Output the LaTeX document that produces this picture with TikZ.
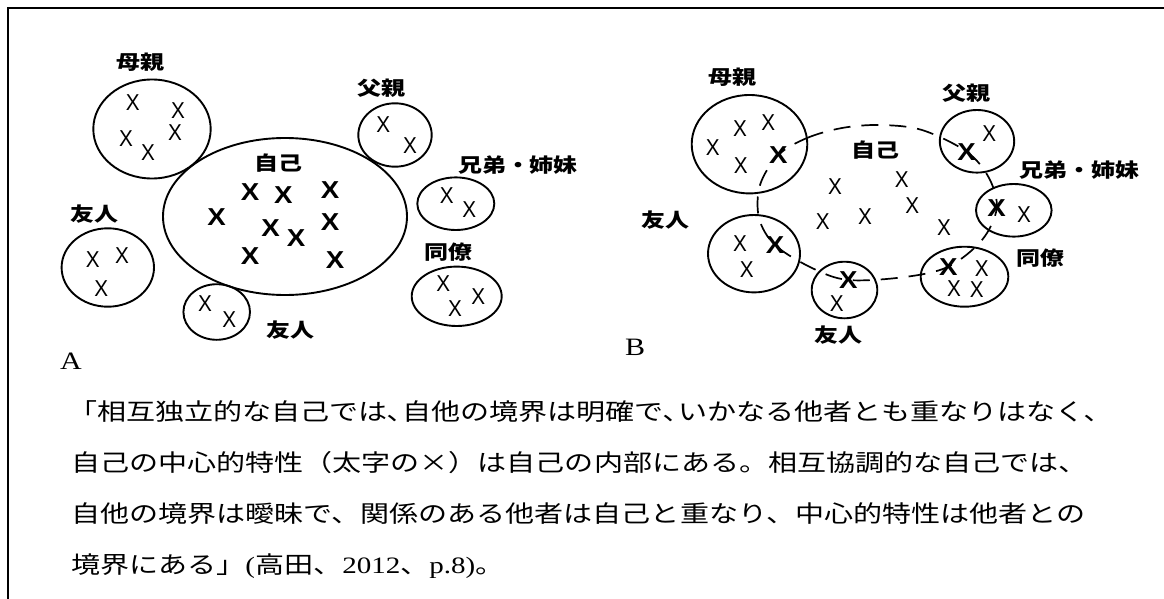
\documentclass[tikz,border=0pt]{standalone}
\usepackage{fontspec}
\usetikzlibrary{shapes.geometric}
\newfontfamily\jbody{Noto Sans CJK JP}[FakeStretch=1.236]
\newfontfamily\jlbl{Noto Sans CJK JP}[FakeStretch=1.23]
\newfontfamily\lbody{Liberation Serif}[FakeStretch=1.236]
\newfontfamily\xthinf{Liberation Sans}[FakeStretch=0.9]
\newfontfamily\xboldf{Liberation Sans}[FakeStretch=1.13]
\newfontfamily\abf{Liberation Serif}[FakeStretch=1.2]
\tikzset{
 ring/.style={draw, ellipse, line width=1.9pt, inner sep=0pt},
 lbl/.style={inner sep=0pt, font=\jlbl\bfseries\fontsize{19.5}{19.5}\selectfont},
 xt/.style={inner sep=0pt, font=\xthinf\fontsize{23}{23}\selectfont},
 xb/.style={inner sep=0pt, font=\xboldf\bfseries\fontsize{24.5}{24.5}\selectfont},
 bodyline/.style={inner sep=0pt, anchor=base west, font=\jbody\fontsize{23.5}{23.5}\selectfont},
 selfline/.style={line width=1.7pt, dash pattern=on 17pt off 11pt},
 outerframe/.style={line width=2.3pt},
 panel/.style={inner sep=0pt, font=\abf\fontsize{25}{25}\selectfont},
}
\begin{document}
\begin{tikzpicture}[x=1pt,y=-1pt]
\useasboundingbox (0,0) rectangle (1164,599);
\draw[outerframe] (8,605) -- (8,8) -- (1170,8);

% ---------------- A ----------------
\node[ring, minimum width=117.4pt, minimum height=99pt] (moA) at (152,129) {};
\node[lbl] (moAl) at (140,62) {母親};
\node[xt] (moA1) at (132.7,102.7) {X};
\node[xt] (moA2) at (178,110.7) {X};
\node[xt] (moA3) at (126,139) {X};
\node[xt] (moA4) at (148,152.7) {X};
\node[xt] (moA5) at (175,132.7) {X};

\node[ring, minimum width=244pt, minimum height=157pt] (jiA) at (285,216.5) {};
\node[lbl] (jiAl) at (278,163) {自己};
\node[xb] (jiA1) at (250,191.7) {X};
\node[xb] (jiA2) at (283.3,195) {X};
\node[xb] (jiA3) at (330,190) {X};
\node[xb] (jiA4) at (216.7,216.7) {X};
\node[xb] (jiA5) at (270.7,228.3) {X};
\node[xb] (jiA6) at (330,221.7) {X};
\node[xb] (jiA7) at (296,238) {X};
\node[xb] (jiA8) at (250,256) {X};
\node[xb] (jiA9) at (335,260) {X};

\node[ring, minimum width=73.4pt, minimum height=63.4pt] (faA) at (395,135) {};
\node[lbl] (faAl) at (381.7,88.3) {父親};
\node[xt] (faA1) at (383.3,125) {X};
\node[xt] (faA2) at (410,146) {X};

\node[ring, minimum width=77pt, minimum height=52.6pt] (kyA) at (455.8,203.7) {};
\node[lbl] (kyAl) at (518,165) {兄弟・姉妹};
\node[xt] (kyA1) at (446.7,196) {X};
\node[xt] (kyA2) at (469.3,210) {X};

\node[ring, minimum width=90pt, minimum height=59.4pt] (doA) at (456.7,296.3) {};
\node[lbl] (doAl) at (448.3,251.7) {同僚};
\node[xt] (doA1) at (443.3,283.3) {X};
\node[xt] (doA2) at (478.3,296.7) {X};
\node[xt] (doA3) at (455,308.3) {X};

\node[ring, minimum width=92.4pt, minimum height=78.4pt] (yuA) at (107.8,267.5) {};
\node[lbl] (yuAl) at (94,214) {友人};
\node[xt] (yuA1) at (92.7,260) {X};
\node[xt] (yuA2) at (122,256) {X};
\node[xt] (yuA3) at (101.3,288.3) {X};

\node[ring, minimum width=66.6pt, minimum height=55.6pt] (ybA) at (216.7,312) {};
\node[lbl] (ybAl) at (290,330) {友人};
\node[xt] (ybA1) at (205,303.3) {X};
\node[xt] (ybA2) at (229.3,320) {X};

\node[panel] (pA) at (71,361) {A};

% ---------------- B ----------------
\node[ring, minimum width=115.6pt, minimum height=98.4pt] (moB) at (749.5,144.2) {};
\node[lbl] (moBl) at (732.7,77.3) {母親};
\node[xt] (moB1) at (740,128.3) {X};
\node[xt] (moB2) at (768.3,122.7) {X};
\node[xt] (moB3) at (712.7,147.3) {X};
\node[xt] (moB4) at (740.7,166) {X};
\node[xb] (moBx) at (778.3,155) {X};

\node[lbl] (jiBl) at (875,150) {自己};
\node[xt] (jiB1) at (835,186.7) {X};
\node[xt] (jiB2) at (822.7,221.7) {X};
\node[xt] (jiB3) at (865,216.7) {X};
\node[xt] (jiB4) at (901.7,180) {X};
\node[xt] (jiB5) at (912.3,205.7) {X};
\node[xt] (jiB6) at (944,227.7) {X};

\node[ring, minimum width=74.4pt, minimum height=62.6pt] (faB) at (977,141.3) {};
\node[lbl] (faBl) at (966.7,93.3) {父親};
\node[xt] (faB1) at (989.3,134) {X};
\node[xb] (faBx) at (966.7,151.7) {X};

\node[ring, minimum width=75.6pt, minimum height=52.6pt] (kyB) at (1013.8,210.3) {};
\node[lbl] (kyBl) at (1079.7,170) {兄弟・姉妹};
\node[xb] (kyBx) at (996.7,208.3) {X};
\node[xt] (kyB1) at (1024,215) {X};

\node[ring, minimum width=87.6pt, minimum height=60pt] (doB) at (964.5,276.7) {};
\node[lbl] (doBl) at (1040,258.3) {同僚};
\node[xb] (doBx) at (948.3,266.7) {X};
\node[xt] (doB1) at (981.7,268.3) {X};
\node[xt] (doB2) at (954,288.3) {X};
\node[xt] (doB3) at (976.7,289.3) {X};

\node[ring, minimum width=65.6pt, minimum height=56.6pt] (ybB) at (844.5,290) {};
\node[lbl] (ybBl) at (838.3,335) {友人};
\node[xb] (ybBx) at (848.3,280) {X};
\node[xt] (ybB1) at (836.7,303.3) {X};

\node[ring, minimum width=92pt, minimum height=77.4pt] (yuB) at (754,253.7) {};
\node[lbl] (yuBl) at (665,220) {友人};
\node[xt] (yuB1) at (740,243.3) {X};
\node[xt] (yuB2) at (746.7,270) {X};
\node[xb] (yuBx) at (775,245) {X};

\draw[selfline] plot[smooth cycle, tension=0.55] coordinates {
 (moBx.center) (807,138) (842,128) (880,125) (922,130) (faBx.center)
 (989,178) (kyBx.center) (982,240) (doBx.center) (905,277)
 (ybBx.center) (812,268) (yuBx.center) (759,218) (760,185)};

\node[panel] (pB) at (635,347) {B};

% ---------------- text ----------------
\node[bodyline] (t1) at (68,420) {「相互独立的な自己では､自他の境界は明確で､いかなる他者とも重なりはなく､};
\node[bodyline] (t2) at (71,471) {自己の中心的特性（太字の×）は自己の内部にある。相互協調的な自己では、};
\node[bodyline] (t3) at (71,522) {自他の境界は曖昧で、関係のある他者は自己と重なり、中心的特性は他者との};
\node[bodyline] (t4) at (71,573) {境界にある」{\lbody (}高田、{\lbody 2012}、{\lbody p.8)}。};
\end{tikzpicture}
\end{document}
